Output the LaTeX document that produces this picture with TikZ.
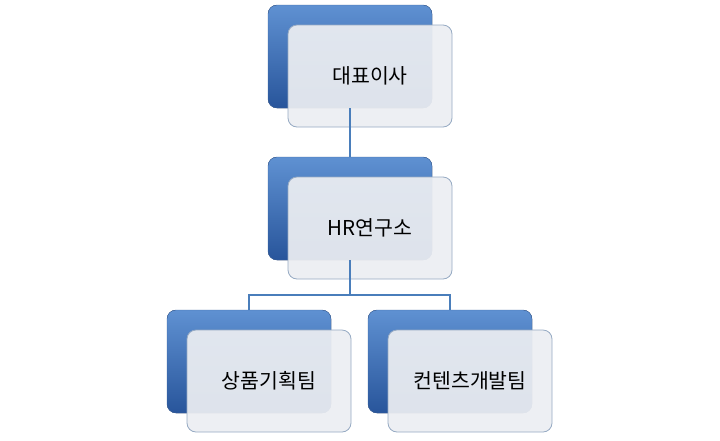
\documentclass[tikz,border=0pt]{standalone}
\usepackage{fontspec}
\newfontfamily\kr{Noto Sans CJK KR}
\begin{document}
\begin{tikzpicture}[x=1pt,y=-1pt,
  blueb/.style={rounded corners=9pt, top color={rgb,255:red,95;green,145;blue,210}, bottom color={rgb,255:red,40;green,85;blue,155}, draw={rgb,255:red,60;green,100;blue,160}},
  whiteb/.style={rounded corners=9pt, fill={rgb,255:red,236;green,238;blue,242}, fill opacity=0.93, draw={rgb,255:red,150;green,170;blue,195}, line width=0.8pt},
  lbl/.style={font=\kr\fontsize{20.5}{24}\selectfont, text=black},
  conn/.style={draw={rgb,255:red,74;green,126;blue,187}, line width=1.6pt}]
\useasboundingbox (0,0) rectangle (720,440);
\newcommand\orgbox[4]{%
  \fill[blueb] (#1,#2) rectangle ++(164,103);
  \draw[whiteb] (#1+20,#2+20) rectangle ++(164,102);
  \node[lbl] (#3) at (#1+102,#2+71) {#4};
  \coordinate (#3t) at (#1+82,#2);
  \coordinate (#3b) at (#1+82,#2+103);}
\orgbox{268}{5}{ceo}{대표이사}
\orgbox{268}{157}{hr}{HR연구소}
\orgbox{167}{310}{pp}{상품기획팀}
\orgbox{368}{310}{cd}{컨텐츠개발팀}
\coordinate (j) at (350,295);
\draw[conn] (ceob) -- (hrt);
\draw[conn] (hrb) -- (j);
\draw[conn] (ppt) -- (ppt |- j) -- (cdt |- j) -- (cdt);
\end{tikzpicture}
\end{document}
